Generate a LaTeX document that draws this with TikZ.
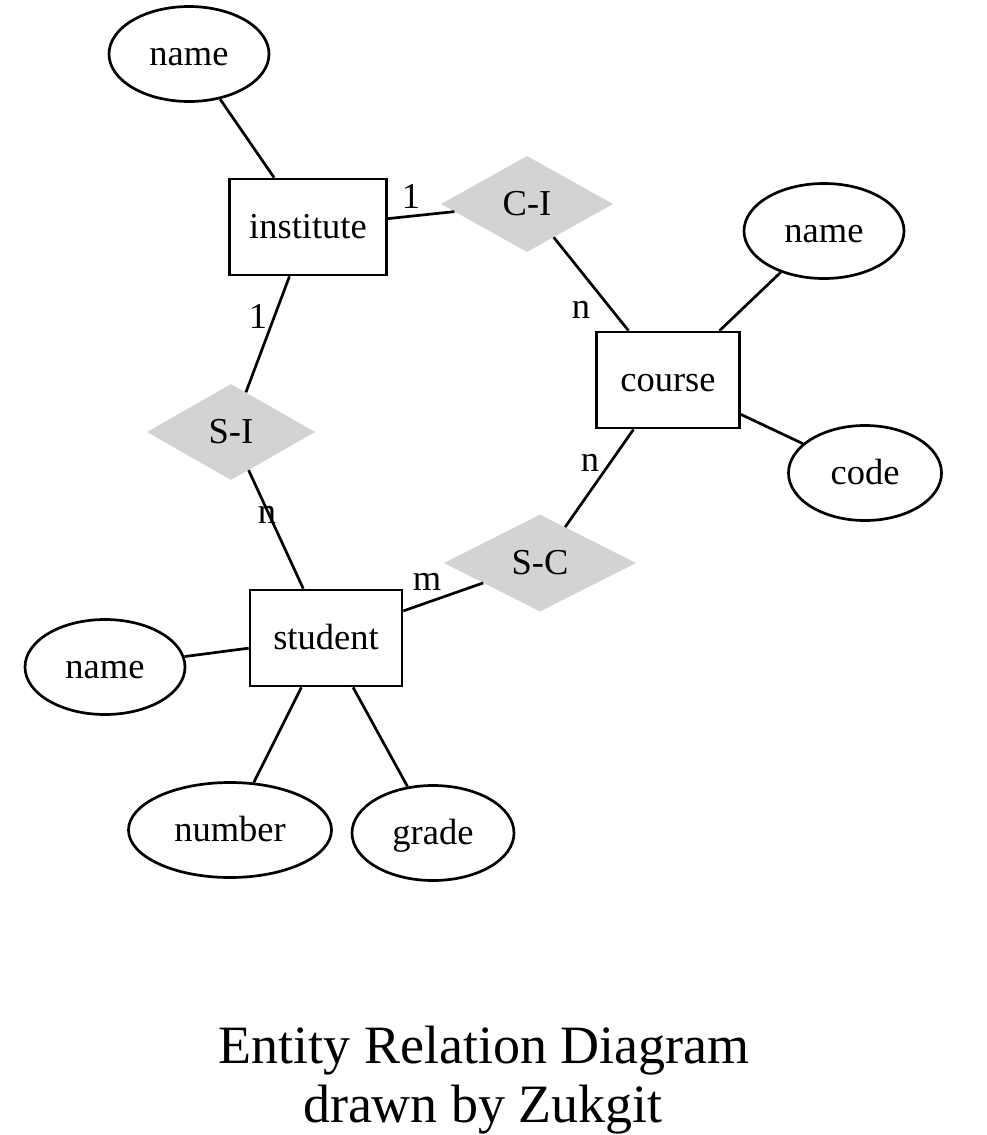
\documentclass[tikz,border=0pt]{standalone}
\usepackage{fontspec}
\setmainfont{Liberation Serif}
\usetikzlibrary{shapes.geometric}
\definecolor{relgray}{RGB}{211,211,211}
\tikzset{
  every node/.style={font=\fontsize{36.5}{44}\selectfont, text height=31pt, text depth=8pt},
  attr/.style={ellipse, draw, line width=2.7pt, inner sep=0pt, minimum width=160, minimum height=95},
  entity/.style={rectangle, draw, line width=2.7pt, inner xsep=0pt, minimum height=96},
  rel/.style={diamond, fill=relgray, inner sep=0pt, minimum width=172, minimum height=96},
  card/.style={inner sep=0pt},
  link/.style={line width=2.7pt},
  caption/.style={font=\fontsize{54}{60}\selectfont, anchor=base, inner sep=0pt, text height=, text depth=}
}
\begin{document}
\begin{tikzpicture}[x=1pt,y=-1pt]
    \useasboundingbox (0,0) rectangle (987,1135);
    %% entities
    \node[entity, minimum width=157] (institute) at (308,227) {institute};
    \node[entity, minimum width=143] (course) at (668,380) {course};
    \node[entity, minimum width=152] (student) at (326,638) {student};
    %% relations
    \node[rel] (ci) at (527,204) {C-I};
    \node[rel, minimum width=168] (si) at (231,432) {S-I};
    \node[rel, minimum width=192, minimum height=97] (sc) at (540,563) {S-C};
    %% attributes
    \node[attr] (instname) at (189,54) {name};
    \node[attr] (coursename) at (824,231) {name};
    \node[attr, minimum width=153] (code) at (865,473) {code};
    \node[attr] (studname) at (105,667) {name};
    \node[attr, minimum width=203] (number) at (230,830) {number};
    \node[attr, minimum width=162] (grade) at (433,833) {grade};
    %% links
    \foreach \a/\b in {instname/institute, institute/ci, ci/course, coursename/course, course/code,
                       course/sc, institute/si, si/student, sc/student, student/studname,
                       student/number, student/grade}
        \draw[link] (\a) -- (\b);
    %% cardinalities
    \node[card] (cardci1) at (411,197) {1};
    \node[card] (cardcin) at (581,307) {n};
    \node[card] (cardsi1) at (258,317) {1};
    \node[card] (cardsin) at (267,512) {n};
    \node[card] (cardscn) at (590,460) {n};
    \node[card] (cardscm) at (427,579) {m};
    %% caption
    \node[caption] (captop) at (484,1063) {Entity Relation Diagram};
    \node[caption] (capbot) at (483,1122) {drawn by Zukgit};
\end{tikzpicture}
\end{document}
